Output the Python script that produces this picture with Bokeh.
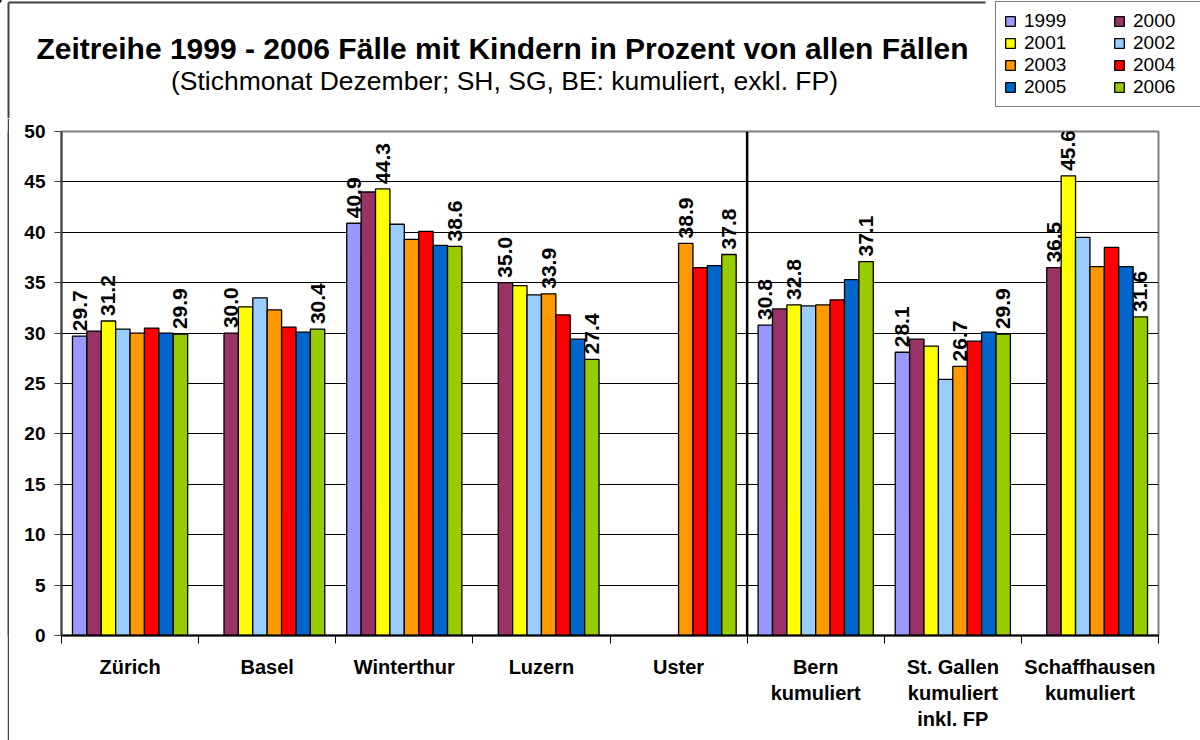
import math
from bokeh.plotting import figure
from bokeh.layouts import column, row
from bokeh.models import (ColumnDataSource, FixedTicker, Legend, LegendItem,
                          LabelSet, Label, Range1d)
from bokeh.core.properties import value
from bokeh.embed import file_html
from bokeh.resources import INLINE

# ---------------- data ----------------
cities = ["Zürich", "Basel", "Winterthur", "Luzern", "Uster",
          "Bern\nkumuliert", "St. Gallen\nkumuliert\ninkl. FP",
          "Schaffhausen\nkumuliert"]
n_city_only = 5  # first five are cities, the rest cantonal (cumulated)

years = ["1999", "2000", "2001", "2002", "2003", "2004", "2005", "2006"]
colors = ["#9999FF", "#993366", "#FFFF00", "#99CCFF",
          "#FF9900", "#FF0000", "#0066CC", "#99CC00"]

v1999 = [29.7, None, 40.9, None, None, 30.8, 28.1, None]
v2000 = [30.2, 30.0, 44.0, 35.0, None, 32.4, 29.4, 36.5]
v2001 = [31.2, 32.6, 44.3, 34.7, None, 32.8, 28.7, 45.6]
v2002 = [30.4, 33.5, 40.8, 33.8, None, 32.7, 25.4, 39.5]
v2003 = [30.0, 32.3, 39.3, 33.9, 38.9, 32.8, 26.7, 36.6]
v2004 = [30.5, 30.6, 40.1, 31.8, 36.5, 33.3, 29.2, 38.5]
v2005 = [30.0, 30.1, 38.7, 29.4, 36.7, 35.3, 30.1, 36.6]
v2006 = [29.9, 30.4, 38.6, 27.4, 37.8, 37.1, 29.9, 31.6]

# which years carry a value label, per city
labeled_years = [
    ["1999", "2001", "2006"],
    ["2000", "2006"],
    ["1999", "2001", "2006"],
    ["2000", "2003", "2006"],
    ["2003", "2006"],
    ["1999", "2001", "2006"],
    ["1999", "2003", "2006"],
    ["2000", "2001", "2006"],
]

y_ticks = [0, 5, 10, 15, 20, 25, 30, 35, 40, 45, 50]

title_text = "Zeitreihe 1999 - 2006 Fälle mit Kindern in Prozent von allen Fällen"
subtitle_text = "(Stichmonat Dezember; SH, SG, BE: kumuliert, exkl. FP)"

series = [v1999, v2000, v2001, v2002, v2003, v2004, v2005, v2006]

FONT = "Liberation Sans"
BW = 0.105
FRAME_COL = "#404040"

# ---------------- header (titles + legend) ----------------
HEAD_H = 118
head = figure(width=1200, height=HEAD_H, x_range=Range1d(0, 1200),
              y_range=Range1d(HEAD_H, 0), output_backend="svg",
              toolbar_location=None, x_axis_type=None, y_axis_type=None,
              min_border=0, title=None)
head.outline_line_color = None
head.grid.visible = False
head.background_fill_color = "white"
head.border_fill_color = "white"
# chart border (left and top)
head.segment(x0=[8, 8], y0=[2, 2], x1=[8, 985], y1=[HEAD_H, 2],
             line_color=FRAME_COL, line_width=2)

head.add_layout(Label(x=502, y=47.5, text=title_text, text_align="center",
                      text_baseline="middle", text_font=FONT,
                      text_font_style="bold", text_font_size="30px",
                      text_color="black"))
head.add_layout(Label(x=504, y=80.5, text=subtitle_text, text_align="center",
                      text_baseline="middle", text_font=FONT,
                      text_font_size="26.5px", text_color="black"))

legend_items = {}
for yr, col in zip(years, colors):
    # off-screen swatch carrier so the legend can draw the series colour
    dummy = head.vbar(x=[-1000], top=[1], width=1, fill_color=col,
                      line_color="black", line_width=1.3)
    legend_items[yr] = LegendItem(label=yr, renderers=[dummy])
# legend fills column by column; order so rows read 1999 2000 / 2001 2002 ...
order = years[0::2] + years[1::2]
legend = Legend(items=[legend_items[y] for y in order], ncols=2,
                location=(995, 3 + HEAD_H - 110), orientation="vertical")
legend.label_text_font = FONT
legend.label_text_font_size = "19px"
legend.label_text_color = "black"
legend.glyph_width = 12
legend.glyph_height = 12
legend.label_standoff = 8
legend.label_width = 89
legend.label_height = 20
legend.spacing = 0
legend.padding = 8
legend.margin = 0
legend.border_line_color = "black"
legend.border_line_width = 1.5
legend.background_fill_color = "white"
legend.background_fill_alpha = 1
head.add_layout(legend, "center")

# ---------------- left border strip (white gap + dark 2px line) ----------------
MAIN_H = 740 - HEAD_H


def strip(w, colour):
    f = figure(width=w, height=MAIN_H, x_range=Range1d(0, 1),
               y_range=Range1d(0, 1), output_backend="svg",
               toolbar_location=None, x_axis_type=None, y_axis_type=None,
               min_border=0, title=None)
    f.outline_line_color = None
    f.grid.visible = False
    f.background_fill_color = colour
    f.border_fill_color = colour
    return f


gap = strip(7, "white")
edge = strip(2, FRAME_COL)

# ---------------- main chart ----------------
p = figure(width=1191, height=MAIN_H, x_range=(0, len(cities)),
           y_range=(0, 50), output_backend="svg", toolbar_location=None,
           min_border_left=52, min_border_right=42,
           min_border_top=131 - HEAD_H, min_border_bottom=105, title=None)
p.background_fill_color = "white"
p.border_fill_color = "white"
p.outline_line_color = "#808080"
p.outline_line_width = 2

lab_x, lab_y, lab_t = [], [], []
nY = len(years)
for j, (yr, vals, col) in enumerate(zip(years, series, colors)):
    xs, tops = [], []
    for i, v in enumerate(vals):
        if v is None:
            continue
        x = i + 0.5 + (j - (nY - 1) / 2) * BW
        xs.append(x)
        tops.append(v)
        if yr in labeled_years[i]:
            lab_x.append(x)
            lab_y.append(v)
            lab_t.append(f"{v:.1f}")
    src = ColumnDataSource(dict(x=xs, top=tops))
    p.vbar(x="x", top="top", bottom=0, width=BW, source=src,
           fill_color=col, line_color="black", line_width=1.3)

# separator between cities and cantonal values
p.segment(x0=[n_city_only], y0=[0], x1=[n_city_only], y1=[50],
          line_color="black", line_width=2.5)

# value labels
lsrc = ColumnDataSource(dict(x=lab_x, y=lab_y, t=lab_t))
p.add_layout(LabelSet(x="x", y="y", text="t", source=lsrc, angle=math.pi / 2,
                      y_offset=5, text_align="left", text_baseline="middle",
                      text_font=value(FONT), text_font_style="bold",
                      text_font_size="21px", text_color="black"))

# axes
centers = [i + 0.5 for i in range(len(cities))]
p.xaxis.ticker = FixedTicker(ticks=centers,
                             minor_ticks=list(range(len(cities) + 1)))
p.xaxis.major_label_overrides = {c: name for c, name in zip(centers, cities)}
p.xaxis.major_tick_out = 0
p.xaxis.major_tick_in = 0
p.xaxis.minor_tick_out = 8
p.xaxis.minor_tick_in = 0
p.xaxis.minor_tick_line_color = "black"
p.xaxis.minor_tick_line_width = 1
p.xaxis.axis_line_color = "black"
p.xaxis.axis_line_width = 2
p.xaxis.major_label_text_font = FONT
p.xaxis.major_label_text_font_style = "bold"
p.xaxis.major_label_text_font_size = "20px"
p.xaxis.major_label_text_color = "black"
p.xaxis.major_label_standoff = 12
p.xgrid.visible = False

p.yaxis.ticker = FixedTicker(ticks=y_ticks)
p.yaxis.major_tick_out = 7
p.yaxis.major_tick_in = 0
p.yaxis.major_tick_line_color = FRAME_COL
p.yaxis.minor_tick_line_color = None
p.yaxis.axis_line_color = FRAME_COL
p.yaxis.axis_line_width = 2
p.yaxis.major_label_text_font = FONT
p.yaxis.major_label_text_font_style = "bold"
p.yaxis.major_label_text_font_size = "19px"
p.yaxis.major_label_text_color = "black"
p.yaxis.major_label_standoff = 9
p.ygrid.ticker = FixedTicker(ticks=y_ticks[1:-1])
p.ygrid.grid_line_color = "black"
p.ygrid.grid_line_width = 1

layout = column(head, row(gap, edge, p, spacing=0), spacing=0)
open("out.html", "w").write(file_html(layout, INLINE))
